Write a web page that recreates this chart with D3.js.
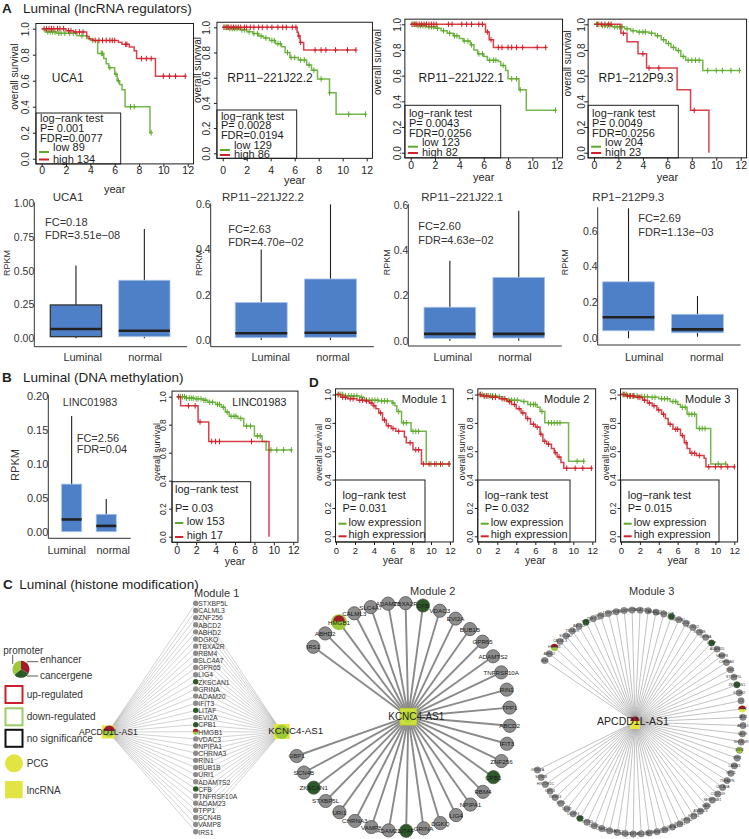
<!DOCTYPE html>
<html><head><meta charset="utf-8">
<script src="https://cdn.jsdelivr.net/npm/d3@7"></script>
<style>body{margin:0;background:#fff}svg{display:block}text{font-family:"Liberation Sans",Arial,Helvetica,sans-serif}</style>
</head><body><svg id="c" width="749" height="839"></svg>
<script>
// ---------------- DATA ----------------
const yrTicks = [0,2,4,6,8,10,12];
const osTicks = [0,0.2,0.4,0.6,0.8,1.0];
// Kaplan-Meier step points [year, survival]; end = last follow-up; cens = censor times
const uca1Low = [[0,1],[0.3,0.975],[1.2,0.965],[2.9,0.945],[3.7,0.925],[4.0,0.91],[4.6,0.81],[5.1,0.77],[5.3,0.73],[5.5,0.70],[6.0,0.65],[6.2,0.60],[6.4,0.57],[6.6,0.53],[6.85,0.40],[8.9,0.20]];
const uca1LowCens = [0.5,0.7,0.9,1.1,1.4,1.6,1.9,2.3,2.6,3.3,4.2,4.9,5.0,5.6,6.1,6.3,7.3,7.6,9.0];
const uca1High = [[0,1],[2.0,0.985],[2.6,0.975],[3.7,0.94],[3.9,0.92],[4.2,0.91],[6.3,0.895],[6.6,0.88],[7.2,0.86],[7.6,0.83],[7.8,0.77],[9.35,0.635]];
const uca1HighCens = [0.2,0.4,0.6,0.8,1.0,1.3,1.5,1.8,2.2,2.4,2.8,3.1,3.4,4.4,4.7,5.0,5.3,5.6,5.8,6.0,6.9,7.0,8.2,8.6,9.0,10.0,10.5,11.0,11.8];
const rp222Low = [[0,1],[0.5,0.99],[1.4,0.98],[2.0,0.965],[2.5,0.95],[3.0,0.93],[3.4,0.915],[3.9,0.895],[4.4,0.87],[4.9,0.845],[5.2,0.80],[5.6,0.76],[6.3,0.74],[7.0,0.70],[7.4,0.66],[7.9,0.59],[8.9,0.48],[9.45,0.31]];
const rp222LowCens = [0.2,0.4,0.6,0.8,1.0,1.2,1.6,1.8,2.2,2.6,2.9,3.2,3.6,4.1,4.3,4.6,4.8,5.4,5.7,6.0,6.5,6.8,7.2,7.6,8.2,8.9,10.5,11.9];
const rp222High = [[0,1],[6.2,0.96],[6.3,0.93],[6.45,0.88],[6.75,0.82]];
const rp222HighCens = [0.1,0.3,0.5,0.7,0.9,1.1,1.3,1.5,1.8,2.0,2.3,2.6,3.0,3.3,3.7,4.1,4.6,5.0,5.3,5.8,6.1,6.35,6.5,7.7,8.2,8.6,9.4,10.4,11.1];
const rp221Low = [[0,1],[0.5,0.99],[1.3,0.98],[2.0,0.97],[2.5,0.95],[3.0,0.93],[3.5,0.91],[4.0,0.89],[4.3,0.87],[4.9,0.84],[5.2,0.80],[5.5,0.77],[6.0,0.75],[6.3,0.72],[7.2,0.71],[7.4,0.68],[7.8,0.64],[8.0,0.575],[8.9,0.49],[9.5,0.33]];
const rp221LowCens = [0.2,0.4,0.6,0.8,1.0,1.2,1.5,1.7,1.9,2.2,2.7,3.2,3.6,3.8,4.4,4.7,5.0,5.6,5.9,6.5,6.8,7.0,7.6,8.3,8.7,9.0,11.9];
const rp221High = [[0,1],[6.15,0.94],[6.45,0.88],[6.8,0.82]];
const rp221HighCens = [0.1,0.3,0.5,0.7,0.9,1.1,1.3,1.5,1.7,1.9,2.1,3.1,3.4,4.2,4.6,5.0,5.6,5.9,6.3,6.6,7.2,7.5,8.0,8.3,8.7,9.2,10.4,11.1];
const rp1Low = [[0,1],[0.6,0.99],[1.5,0.98],[2.5,0.965],[3.0,0.95],[3.5,0.94],[4.5,0.93],[5.0,0.91],[5.5,0.88],[5.9,0.85],[6.3,0.82],[6.7,0.795],[7.1,0.75],[7.5,0.72],[8.9,0.64]];
const rp1LowCens = [0.2,0.4,0.7,0.9,1.1,1.3,1.7,1.9,2.1,2.3,2.7,3.2,3.7,4.0,4.2,4.7,5.2,5.7,6.1,6.5,6.9,7.3,7.7,8.0,8.3,8.6,9.3,10.0,10.5,11.2,11.9];
const rp1High = [[0,1],[2.2,0.93],[2.7,0.865],[3.6,0.77],[4.3,0.66],[6.8,0.49],[7.9,0.33],[9.4,0]];
const rp1HighCens = [0.3,0.6,0.9,1.2,1.4,2.4,4.0,4.5,5.3,8.2];
const lincLow = [[0,1],[0.9,0.99],[1.8,0.985],[2.7,0.975],[3.2,0.96],[4.0,0.945],[4.6,0.925],[5.0,0.89],[5.4,0.86],[6.3,0.845],[6.9,0.79],[8.0,0.72],[8.8,0.68],[9.2,0.62]];
const lincLowCens = [0.2,0.4,0.6,0.8,1.0,1.3,1.5,1.7,2.0,2.2,2.5,2.8,3.0,3.4,3.7,4.2,4.4,4.8,5.2,5.6,5.9,6.1,6.6,7.2,7.6,8.3,8.6,9.7,10.3,11.0,11.8];
const lincHigh = [[0,1],[0.4,0.935],[2.2,0.82],[3.3,0.68],[9.5,0]];
const lincHighCens = [0.2,1.2,1.9,2.4,3.6,4.0,4.4,7.7];
const mod1Low = [[0,1],[0.8,0.99],[2.5,0.98],[3.0,0.96],[4.5,0.955],[5.9,0.94],[6.2,0.92],[6.4,0.88],[6.9,0.80],[7.9,0.74],[9.5,0.51]];
const mod1LowCens = [0.2,0.5,0.7,1.0,1.3,1.6,1.9,2.2,2.7,3.2,3.5,3.8,4.1,4.4,4.8,5.1,5.4,6.0,6.6,7.1,7.4,8.1,8.4,8.7,10.0,10.6,11.2,11.9];
const mod1High = [[0,1],[0.5,0.98],[1.2,0.97],[2.2,0.96],[3.0,0.955],[3.5,0.94],[3.9,0.92],[4.2,0.90],[4.5,0.87],[4.9,0.82],[5.3,0.78],[5.8,0.76],[6.3,0.74],[7.2,0.70],[7.4,0.66],[8.1,0.61],[9.0,0.51]];
const mod1HighCens = [0.3,0.7,1.0,1.5,1.8,2.5,2.8,3.2,3.7,4.0,4.7,5.1,5.5,6.0,6.6,7.8,8.4,8.7,9.2,9.8,10.4,11.0,11.9];
const mod2Low = [[0,1],[0.5,0.99],[2.0,0.985],[2.5,0.97],[3.0,0.96],[4.5,0.95],[5.2,0.93],[6.2,0.91],[6.5,0.88],[7.0,0.80],[9.5,0.53]];
const mod2LowCens = [0.2,0.4,0.7,0.9,1.1,1.3,1.5,1.8,2.2,2.7,3.2,3.5,3.8,4.1,4.8,5.5,5.8,6.0,6.7,7.4,7.7,8.0,8.3,8.6,10.4,11.1];
const mod2High = [[0,1],[0.3,0.99],[1.2,0.98],[2.2,0.97],[3.0,0.95],[3.5,0.93],[4.0,0.90],[4.5,0.87],[5.0,0.83],[5.5,0.79],[6.0,0.77],[6.5,0.72],[6.8,0.67],[7.2,0.65],[7.7,0.62],[8.0,0.59],[8.3,0.56],[8.7,0.52],[9.0,0.48]];
const mod2HighCens = [0.2,0.6,0.9,1.5,1.8,2.5,2.8,3.3,3.8,4.3,4.7,5.2,5.8,6.2,6.6,7.0,7.4,8.1,8.5,9.3,10.2,11.0,11.9];
const mod3Low = [[0,1],[0.7,0.99],[2.0,0.985],[3.0,0.98],[4.0,0.97],[5.2,0.95],[6.0,0.93],[6.3,0.91],[7.0,0.86],[8.0,0.76],[9.5,0.51]];
const mod3LowCens = [0.2,0.4,0.6,0.9,1.2,1.4,1.7,2.2,2.5,2.8,3.3,3.6,4.3,4.6,4.9,5.5,5.8,6.5,6.8,7.2,7.5,7.8,8.3,8.6,8.9,10.3,11.1];
const mod3High = [[0,1],[0.5,0.99],[1.5,0.98],[2.3,0.96],[2.8,0.94],[3.3,0.92],[3.8,0.89],[4.3,0.86],[4.7,0.83],[5.0,0.79],[5.5,0.755],[6.3,0.71],[6.7,0.66],[7.0,0.62],[7.3,0.585],[8.0,0.57],[8.8,0.55],[9.0,0.49]];
const mod3HighCens = [0.3,0.7,1.0,1.3,1.8,2.0,2.5,3.0,3.5,4.0,4.5,5.2,5.8,6.0,6.5,6.9,7.5,7.8,8.3,9.3,10.0,10.6,11.3,12.0];

// Boxplots: [lower whisker, Q1, median, Q3, upper whisker] for Luminal, normal
const bpCats = ["Luminal","normal"];
const bpUCA1 = [[0,0.012,0.069,0.247,0.54],[0,0.012,0.056,0.43,0.81]];
const bpRP222 = [[0,0.01,0.03,0.166,0.40],[0,0.012,0.032,0.27,0.60]];
const bpRP221 = [[0,0.01,0.03,0.148,0.353],[0,0.012,0.03,0.28,0.575]];
const bpRP1 = [[0,0.042,0.117,0.315,0.725],[0.009,0.031,0.05,0.134,0.236]];
const bpLINC = [[0,0,0.018,0.07,0.17],[0,0,0.0085,0.0256,0.048]];

// Networks
const m1Genes = ["STXBP5L","CALML3","ZNF256","ABCD2","ABHD2","DGKQ","TBXA2R","RBM4","SLC4A7","GPR65","LIG4","ZKSCAN1","GRINA","ADAM20","IFIT3","LITAF","EVI2A","CPB1","HMGB1","VDAC3","NPIPA1","CHRNA3","RIN1","BUB1B","URI1","ADAMTS2","CFB","TNFRSF10A","ADAM23","TPP1","SCN4B","VAMP8","IRS1"];
const m2Genes = ["IRS1","ABHD2","HMGB1","CALML3","SLC4A7","ADAM20","TBXA2R","CFB","VDAC3","EVI2A","BUB1B","GPR65","ADAMTS2","TNFRSF10A","RIN1","TPP1","ABCD2","IFIT3","ZNF256","CPB1","RBM4","NPIPA1","LIG4","DGKQ","GRINA","LITAF","ADAM23","VAMP8","CHRNA3","URI1","STXBP5L","ZKSCAN1","SCN4B","GBP1"];
const m3Genes = ["IRS1","ABHD2","HMGB1","CALML3","SLC4A7","TBXA2R","ABCD2","TPP1","ZNF256","GPR65","DGKQ","RBM4","BUB1B","EVI2A","VDAC3","URI1","ADAMTS2","TNFRSF10A","CPB1","NPIPA1","LIG4","KCNQ2","SCN4B","GRINA","LITAF","ADAM20","VAMP8","CHRNA3","RIN1","STXBP5L","ZKSCAN1","KCNH2","C3","IFIT3","JAG1","APOL1","LAG3","SH3BGR","BIN3","IRF4","LAMB3","NPC1","TNFAIP8","CELA2A","CCDC69","SERPINB1","GAS1","ADAM23","KRT81","GPR12","SOX21","GATA2","PRR5","TMEM51","TBX3","RASL11B","ZNF14","ACSL1","LRRC2","MYO1A","LPAR1","DOK5","TP53I3","CFB","DUSP4","DLG2","SYT5","RBM13","IGFL3","HIST1H1C","SCN3B","GRIN2A"];
const cancerGenes = ["ZKSCAN1","LITAF","CPB1","CFB"];
const m3Cancer = ["TPP1","CPB1","LITAF","ZKSCAN1","CFB"];
const pieRedGreen = ["HMGB1"];
const pieRedYellow = ["IFIT3"];
const downGenes = ["BIN3"];

// ---------------- DRAW ----------------
const svg = d3.select("#c");
svg.append("rect").attr("width",749).attr("height",839).attr("fill","#fff");
const GREEN = "#5daa2b", RED = "#d0202a", INK = "#1e1e1e";
const BLUE = "#4e80c7";
const YEL = "#e1e443", LTG = "#9cc93a", DKG = "#2c5a26", DKR = "#a21b2b", NODE = "#8d8d8d";

function txt(g, x, y, s, o = {}) {
  const t = g.append("text").attr("x", x).attr("y", y).text(s)
    .attr("font-size", o.size || 11).attr("text-anchor", o.anchor || "start")
    .attr("dominant-baseline", o.base || "central").attr("fill", o.fill || INK);
  if (o.bold) t.attr("font-weight", "bold");
  if (o.rot) t.attr("transform", `rotate(-90,${x},${y})`);
  return t;
}
function stepVal(pts, t) {
  const i = d3.bisector(d => d[0]).right(pts, t) - 1;
  return pts[Math.max(0, i)][1];
}
function drawKM(c) {
  const g = svg.append("g");
  const x = d3.scaleLinear().domain([0, 12]).range([c.x0, c.x12]);
  const y = d3.scaleLinear().domain([0, 1]).range([c.y0, c.y1]);
  const padL = c.padL ?? 0.48, padR = c.padR ?? 0.48;
  const fr = [x(-padL), y(1.04), x(12 + padR), y(-0.04)];
  c.curves.forEach(cv => {
    const pts = cv.pts.concat([[cv.end, cv.pts[cv.pts.length - 1][1]]]);
    g.append("path")
      .attr("d", d3.line().x(d => x(d[0])).y(d => y(d[1])).curve(d3.curveStepAfter)(pts))
      .attr("fill", "none").attr("stroke", cv.color).attr("stroke-width", 1.5).attr("stroke-opacity", 0.85);
    g.append("g").selectAll("path").data(cv.cens).join("path")
      .attr("d", t => { const px = x(t), py = y(stepVal(cv.pts, t)); return `M${px},${py - 2.8}v5.6M${px - 1.8},${py}h3.6`; })
      .attr("stroke", cv.color).attr("stroke-width", 1).attr("fill", "none");
  });
  // legend
  const lb = c.legend.box;
  g.append("rect").attr("x", lb[0]).attr("y", lb[1]).attr("width", lb[2] - lb[0]).attr("height", fr[3] - lb[1])
    .attr("fill", "#fff").attr("stroke", INK).attr("stroke-width", 1);
  c.legend.rows.forEach(r => {
    txt(g, lb[0] + r.dx, r.y, r.t, { size: c.legSize || 11 });
    if (r.c) g.append("line").attr("x1", lb[0] + 3).attr("x2", lb[0] + (c.legLine || 13))
      .attr("y1", r.ly ?? r.y + 2).attr("y2", r.ly ?? r.y + 2).attr("stroke", r.c).attr("stroke-width", 2);
  });
  g.append("rect").attr("x", fr[0]).attr("y", fr[1]).attr("width", fr[2] - fr[0]).attr("height", fr[3] - fr[1])
    .attr("fill", "none").attr("stroke", INK).attr("stroke-width", 1);
  // axes
  const xa = g.append("g").attr("transform", `translate(0,${fr[3]})`)
    .call(d3.axisBottom(x).tickValues(yrTicks).tickSize(3).tickFormat(d3.format("d")));
  xa.select(".domain").remove();
  xa.attr("font-family", null).attr("font-size", c.xtSize || 10.5);
  xa.selectAll("line").attr("stroke", INK);
  xa.selectAll("text").attr("y", c.xlabY - fr[3]).attr("dy", "0.35em").attr("fill", INK);
  const ya = g.append("g").attr("transform", `translate(${fr[0]},0)`)
    .call(d3.axisLeft(y).tickValues(osTicks).tickSize(3).tickFormat(d3.format(".1f")));
  ya.select(".domain").remove();
  ya.attr("font-family", null).attr("font-size", c.ytSize || 10);
  ya.selectAll("line").attr("stroke", INK);
  ya.selectAll("text").attr("x", 0).attr("dy", null).attr("y", -(c.ylabOff || 9))
    .attr("transform", "rotate(-90)").attr("text-anchor", "middle").attr("dominant-baseline", "central").attr("fill", INK);
  txt(g, (c.x0 + c.x12) / 2, c.yearY, "year", { size: c.yearSize || 11, anchor: "middle" });
  txt(g, c.ylab[0], c.ylab[1], "overall survival", { size: c.ylabSize || 10, anchor: "middle", rot: true });
  txt(g, c.label.x, c.label.y, c.label.t, { size: c.label.size || 12, anchor: "middle" });
}
function kmRows(a, b, c2, d, e, ys) {
  return [{ t: a, dx: 4, y: ys[0] }, { t: b, dx: 4, y: ys[1] }, { t: c2, dx: 4, y: ys[2] },
          { t: d, dx: 17, y: ys[3], c: GREEN, ly: ys[3] + 5 }, { t: e, dx: 17, y: ys[4], c: RED, ly: ys[4] + 1 }];
}
// Panel A KM
drawKM({ x0: 41.7, x12: 187.7, y1: 28.7, y0: 158.7, xlabY: 170.3, yearY: 189, ylab: [15, 76.7], ylabOff: 10,
  label: { t: "UCA1", x: 67.8, y: 77.7 },
  curves: [{ pts: uca1Low, end: 9.0, cens: uca1LowCens, color: GREEN }, { pts: uca1High, end: 11.8, cens: uca1HighCens, color: RED }],
  legend: { box: [36, 113, 120.7], rows: kmRows("log−rank test", "P= 0.001", "FDR=0.0077", "low 89", "high 134", [117.5, 127.5, 137.5, 147, 158.5]) } });
drawKM({ x0: 222.7, x12: 366.7, y1: 27.3, y0: 153.3, xlabY: 170, yearY: 180, ylab: [197, 70], ylabOff: 10,
  label: { t: "RP11−221J22.2", x: 270, y: 78 },
  curves: [{ pts: rp222Low, end: 11.9, cens: rp222LowCens, color: GREEN }, { pts: rp222High, end: 11.1, cens: rp222HighCens, color: RED }],
  legend: { box: [216.9, 110, 296.7], rows: kmRows("log−rank test", "P= 0.0028", "FDR=0.0194", "low 129", "high 86", [115.7, 125, 135, 145, 154]) } });
drawKM({ x0: 410.7, x12: 556.7, y1: 24.3, y0: 152.7, xlabY: 165.5, yearY: 176.7, ylab: [377, 62], ylabOff: 7,
  label: { t: "RP11−221J22.1", x: 461.3, y: 77.5 },
  curves: [{ pts: rp221Low, end: 11.9, cens: rp221LowCens, color: GREEN }, { pts: rp221High, end: 11.1, cens: rp221HighCens, color: RED }],
  legend: { box: [404.9, 105.3, 500.7], rows: kmRows("log−rank test", "P= 0.0043", "FDR=0.0256", "low 123", "high 82", [112.7, 122.7, 132.7, 141.7, 152]) } });
drawKM({ x0: 594, x12: 740.7, y1: 24.3, y0: 152.7, xlabY: 165.5, yearY: 176.7, ylab: [567.7, 63.3], ylabOff: 7,
  label: { t: "RP1−212P9.3", x: 636, y: 77.5 },
  curves: [{ pts: rp1Low, end: 11.9, cens: rp1LowCens, color: GREEN }, { pts: rp1High, end: 9.4, cens: rp1HighCens, color: RED }],
  legend: { box: [588.1, 105.3, 678.3], rows: kmRows("log−rank test", "P= 0.0049", "FDR=0.0256", "low 204", "high 23", [112.7, 122.7, 132.7, 141.7, 152]) } });
// Panel B KM
drawKM({ x0: 176.7, x12: 293.3, y1: 396.7, y0: 536.7, xlabY: 550, yearY: 561, ylab: [156.7, 452], ylabOff: 9, ytSize: 8.5, ylabSize: 8.8, yearSize: 10.5,
  label: { t: "LINC01983", x: 259.3, y: 401.7, size: 10.7 }, legLine: 11.3,
  curves: [{ pts: lincLow, end: 11.8, cens: lincLowCens, color: GREEN }, { pts: lincHigh, end: 9.5, cens: lincHighCens, color: RED }],
  legend: { box: [172, 481.7, 250.7], rows: [{ t: "log−rank test", dx: 3, y: 489 }, { t: "P= 0.03", dx: 3, y: 507.7 },
    { t: "low 153", dx: 14.7, y: 521, c: GREEN }, { t: "high 17", dx: 14.7, y: 535, c: RED }] } });
// Panel D KM
function dRows(p) {
  return [{ t: "log−rank test", dx: 7, y: 495 }, { t: p, dx: 7, y: 508.3 },
    { t: "low expression", dx: 13, y: 521.7, c: GREEN }, { t: "high expression", dx: 13, y: 534.3, c: RED }];
}
const dCommon = { y1: 394.5, y0: 536.3, xlabY: 550.7, yearY: 559.5, ylabOff: 8, ytSize: 8.5, xtSize: 9.5, ylabSize: 8.6, yearSize: 10.5, padL: 0.05, padR: 0.35, legLine: 11 };
drawKM(Object.assign({}, dCommon, { x0: 336, x12: 450, ylab: [319.3, 452.3], label: { t: "Module 1", x: 424.3, y: 399.3, size: 11 },
  curves: [{ pts: mod1Low, end: 11.9, cens: mod1LowCens, color: GREEN }, { pts: mod1High, end: 11.9, cens: mod1HighCens, color: RED }],
  legend: { box: [335.5, 480, 425], rows: dRows("P= 0.031") } }));
drawKM(Object.assign({}, dCommon, { x0: 478.3, x12: 592.3, ylab: [462.3, 451.7], label: { t: "Module 2", x: 566.7, y: 399.3, size: 11 },
  curves: [{ pts: mod2Low, end: 11.1, cens: mod2LowCens, color: GREEN }, { pts: mod2High, end: 11.9, cens: mod2HighCens, color: RED }],
  legend: { box: [477.7, 480, 570], rows: dRows("P= 0.032") } }));
drawKM(Object.assign({}, dCommon, { x0: 621, x12: 734.3, ylab: [605.7, 451.7], label: { t: "Module 3", x: 707.7, y: 399.3, size: 11 },
  curves: [{ pts: mod3Low, end: 11.1, cens: mod3LowCens, color: GREEN }, { pts: mod3High, end: 12, cens: mod3HighCens, color: RED }],
  legend: { box: [620.7, 480, 719], rows: dRows("P= 0.015") } }));

// Boxplots
function drawBox(c) {
  const g = svg.append("g");
  const xb = d3.scaleBand().domain(bpCats).range(c.xr).padding(c.pad);
  const y = d3.scaleLinear().domain([0, c.ymax]).range(c.yr);
  const axTop = Math.min(y(c.ymax), y(d3.max(c.data, d => d[4]))) - 1;
  g.append("line").attr("x1", c.axisX).attr("x2", c.axisX).attr("y1", axTop).attr("y2", c.axBot).attr("stroke", "#333");
  g.append("line").attr("x1", c.axisX).attr("x2", c.xr[1]).attr("y1", c.axBot).attr("y2", c.axBot).attr("stroke", "#333");
  const ya = g.append("g").attr("transform", `translate(${c.axisX},0)`)
    .call(d3.axisLeft(y).tickValues(c.ticks).tickFormat(d3.format(c.fmt)).tickSize(0).tickPadding(0));
  ya.select(".domain").remove();
  ya.attr("font-family", null).attr("font-size", c.tSize || 10.5);
  ya.selectAll("text").attr("fill", "#333");
  c.data.forEach((d, i) => {
    const cat = bpCats[i], cx = xb(cat) + xb.bandwidth() / 2;
    g.append("line").attr("x1", cx).attr("x2", cx).attr("y1", y(d[4])).attr("y2", y(d[0])).attr("stroke", INK).attr("stroke-width", 1.1);
    g.append("rect").attr("x", xb(cat)).attr("width", xb.bandwidth()).attr("y", y(d[3])).attr("height", y(d[1]) - y(d[3]))
      .attr("fill", BLUE).attr("stroke", i === 0 && c.darkFirst ? "#333" : "#a8c3ea").attr("stroke-width", i === 0 && c.darkFirst ? 1.3 : 0.8);
    g.append("line").attr("x1", xb(cat)).attr("x2", xb(cat) + xb.bandwidth()).attr("y1", y(d[2])).attr("y2", y(d[2]))
      .attr("stroke", "#222").attr("stroke-width", 2.6);
    txt(g, cx + c.labDx[i], c.labY, cat, { size: c.cSize || 11, anchor: "middle", fill: "#333" });
  });
  txt(g, c.title[1], c.title[2], c.title[0], { size: c.titleSize || 11.5, anchor: "middle", fill: "#333" });
  txt(g, c.fc[1], c.fc[2], c.fc[0], { size: 11, fill: "#333" });
  txt(g, c.fdr[1], c.fdr[2], c.fdr[0], { size: 11, fill: "#333" });
  txt(g, c.rpkm[0], c.rpkm[1], "RPKM", { size: c.rpkmSize || 9, anchor: "middle", rot: true, fill: "#333" });
}
drawBox({ data: bpUCA1, xr: [33.2, 187.1], pad: 0.25, ymax: 1, yr: [338.3, 203.3], axisX: 34.3, axBot: 346.7, ticks: [0, 0.25, 0.5, 0.75, 1], fmt: ".2f",
  darkFirst: true, labY: 356.7, labDx: [6.7, 0.7], title: ["UCA1", 68, 196.5], fc: ["FC=0.18", 45, 222], fdr: ["FDR=3.51e−08", 45, 234.5], rpkm: [7.3, 263] });
drawBox({ data: bpRP222, xr: [217.9, 373.8], pad: 0.25, ymax: 0.6, yr: [340, 204.4], axisX: 210.7, axBot: 346.7, ticks: [0, 0.2, 0.4, 0.6], fmt: ".1f",
  labY: 356.7, labDx: [9.5, 2.5], title: ["RP11−221J22.2", 263, 196.5], fc: ["FC=2.63", 228.3, 229], fdr: ["FDR=4.70e−02", 228.3, 242.3], rpkm: [199, 263] });
drawBox({ data: bpRP221, xr: [406.8, 561.8], pad: 0.25, ymax: 0.6, yr: [340.7, 205], axisX: 408.3, axBot: 346, ticks: [0, 0.2, 0.4, 0.6], fmt: ".1f",
  labY: 356.7, labDx: [3, -3.8], title: ["RP11−221J22.1", 462.3, 196.5], fc: ["FC=2.60", 418.3, 226], fdr: ["FDR=4.63e−02", 418.3, 240], rpkm: [386.7, 262.3] });
drawBox({ data: bpRP1, xr: [585.4, 740.6], pad: 0.25, ymax: 0.6, yr: [338.3, 230.7], axisX: 597.7, axBot: 345, ticks: [0, 0.2, 0.4, 0.6], fmt: ".1f",
  labY: 356.7, labDx: [15.7, 9.2], title: ["RP1−212P9.3", 628.3, 196.5], fc: ["FC=2.69", 638.3, 218.3], fdr: ["FDR=1.13e−03", 638.3, 231.7], rpkm: [565, 262.3] });
drawBox({ data: bpLINC, xr: [47.1, 130.8], pad: 0.42, ymax: 0.2, yr: [531.7, 395.7], axisX: 48.3, axBot: 538.3, ticks: [0, 0.05, 0.1, 0.15, 0.2], fmt: ".2f",
  tSize: 11, labY: 550, labDx: [-5, 7], title: ["LINC01983", 90, 401.7], titleSize: 10.8, fc: ["FC=2.56", 76.7, 437.7], fdr: ["FDR=0.04", 76.7, 449], rpkm: [15, 465], rpkmSize: 11 });

// Panel titles
const T = svg.append("g");
txt(T, 2, 13, "A", { size: 13.5, bold: true, base: "auto" });
txt(T, 23, 13, "Luminal (lncRNA regulators)", { size: 13.5, base: "auto" });
txt(T, 2, 382, "B", { size: 13.5, bold: true, base: "auto" });
txt(T, 23, 382, "Luminal (DNA methylation)", { size: 13.5, base: "auto" });
txt(T, 309, 386.5, "D", { size: 13.5, bold: true, base: "auto" });
txt(T, 3, 589, "C", { size: 13.5, bold: true, base: "auto" });
txt(T, 19.3, 589, "Luminal (histone modification)", { size: 13.5, base: "auto" });

// Panel C legend
const L = svg.append("g");
const arcL = d3.arc().innerRadius(0).outerRadius(8.5);
const pieL = d3.pie().sort(null).value(d => d[1]);
L.append("g").attr("transform", "translate(21,669.3)").selectAll("path")
  .data(pieL([[DKR, 120], [DKG, 110], [LTG, 130]])).join("path").attr("d", arcL).attr("fill", d => d.data[0]);
L.append("line").attr("x1", 12.7).attr("x2", 12.7).attr("y1", 655).attr("y2", 664).attr("stroke", "#333").attr("stroke-width", 0.8);
L.append("line").attr("x1", 26.7).attr("x2", 38.3).attr("y1", 661.7).attr("y2", 661.7).attr("stroke", "#333").attr("stroke-width", 0.8);
L.append("line").attr("x1", 27).attr("x2", 38.3).attr("y1", 676).attr("y2", 676).attr("stroke", "#333").attr("stroke-width", 0.8);
txt(L, 3.3, 650, "promoter", { size: 10, fill: "#333" });
txt(L, 40, 659.3, "enhancer", { size: 10, fill: "#333" });
txt(L, 40, 675.7, "cancergene", { size: 10, fill: "#333" });
[["up-regulated", "#c9202e", 686], ["down-regulated", "#9ccc65", 708.3], ["no significance", "#111", 729.8]].forEach(r => {
  L.append("rect").attr("x", 5.5).attr("y", r[2]).attr("width", 17).attr("height", 17).attr("fill", "#fff").attr("stroke", r[1]).attr("stroke-width", 2);
  txt(L, 26.7, r[2] + 8.5, r[0], { size: 10, fill: "#333" });
});
L.append("circle").attr("cx", 14).attr("cy", 763.3).attr("r", 9).attr("fill", YEL);
txt(L, 26.7, 763.3, "PCG", { size: 10, fill: "#333" });
L.append("rect").attr("x", 5).attr("y", 781).attr("width", 17.7).attr("height", 17.3).attr("fill", YEL);
txt(L, 26.7, 790, "lncRNA", { size: 10, fill: "#333" });

function nodeFill(name, cancerList) {
  if (downGenes.includes(name)) return LTG;
  if (cancerList.includes(name)) return DKG;
  return NODE;
}
function pieNode(g, x, y, r, bottom) {
  const a = d3.arc().innerRadius(0).outerRadius(r);
  g.append("path").attr("transform", `translate(${x},${y})`).attr("d", a({ startAngle: Math.PI / 2, endAngle: Math.PI * 1.5 })).attr("fill", bottom);
  g.append("path").attr("transform", `translate(${x},${y})`).attr("d", a({ startAngle: -Math.PI / 2, endAngle: Math.PI / 2 })).attr("fill", DKR);
}

// Module 1 (bipartite)
const M1 = svg.append("g");
const m1y = d3.scalePoint().domain(m1Genes).range([603.3, 831.7]);
const m1X = 195.7, hubA = [108.3, 732], hubK = [281.7, 732];
m1Genes.forEach(gn => {
  [hubA, hubK].forEach(h => M1.append("line").attr("x1", h[0]).attr("y1", h[1]).attr("x2", m1X).attr("y2", m1y(gn))
    .attr("stroke", "#9d9d9d").attr("stroke-width", 0.45));
});
m1Genes.forEach(gn => {
  if (pieRedGreen.includes(gn)) pieNode(M1, m1X, m1y(gn), 2.9, LTG);
  else M1.append("circle").attr("cx", m1X).attr("cy", m1y(gn)).attr("r", 2.7).attr("fill", nodeFill(gn, cancerGenes));
  txt(M1, 198.3, m1y(gn) + 0.3, gn, { size: 6.8, fill: "#333" });
});
M1.append("rect").attr("x", hubA[0] - 6.5).attr("y", hubA[1] - 6.5).attr("width", 13).attr("height", 13).attr("fill", YEL);
pieNode(M1, hubA[0] + 1, hubA[1] - 1, 5.5, LTG);
txt(M1, hubA[0], hubA[1], "APCDD1L-AS1", { size: 8.6, anchor: "middle", fill: "#222" });
M1.append("rect").attr("x", hubK[0] - 8).attr("y", hubK[1] - 8).attr("width", 16).attr("height", 15).attr("fill", YEL);
M1.append("circle").attr("cx", hubK[0]).attr("cy", hubK[1]).attr("r", 7).attr("fill", LTG);
txt(M1, 268.3, 730.7, "KCNC4-AS1", { size: 9.8, fill: "#222" });
txt(M1, 216.7, 593.3, "Module 1", { size: 11, anchor: "middle", fill: "#333" });

// Module 2 (star)
const M2 = svg.append("g");
const m2a = d3.scalePoint().domain(m2Genes).range([-142, 160]);
const c2 = [400, 717], r2 = [110, 114], hub2 = [408.3, 716.7];
const p2 = gn => { const a = m2a(gn) * Math.PI / 180; return [c2[0] + r2[0] * Math.cos(a), c2[1] + r2[1] * Math.sin(a)]; };
m2Genes.forEach(gn => {
  const p = p2(gn);
  M2.append("line").attr("x1", hub2[0]).attr("y1", hub2[1]).attr("x2", p[0]).attr("y2", p[1]).attr("stroke", "#8a8a8a").attr("stroke-width", 1.9);
});
m2Genes.forEach(gn => {
  const p = p2(gn);
  if (pieRedGreen.includes(gn)) {
    M2.append("circle").attr("cx", p[0]).attr("cy", p[1]).attr("r", 8).attr("fill", LTG);
    pieNode(M2, p[0], p[1] - 1, 5.8, LTG);
  } else {
    M2.append("circle").attr("cx", p[0]).attr("cy", p[1]).attr("r", 6.6).attr("fill", nodeFill(gn, cancerGenes)).attr("stroke", "#555").attr("stroke-width", 0.8);
  }
  txt(M2, p[0], p[1], gn, { size: 6.2, anchor: "middle", fill: "#1a1a1a" });
});
M2.append("rect").attr("x", hub2[0] - 8.3).attr("y", hub2[1] - 8.3).attr("width", 16.6).attr("height", 16.6).attr("fill", "#cfe03a").attr("stroke", "#b9cf2f");
M2.append("circle").attr("cx", hub2[0]).attr("cy", hub2[1]).attr("r", 6).attr("fill", "#b8d83a");
txt(M2, 416.3, 716.7, "KCNC4-AS1", { size: 10, anchor: "middle", fill: "#222" });
txt(M2, 432.7, 590.7, "Module 2", { size: 11, anchor: "middle", fill: "#333" });

// Module 3 (star)
const M3 = svg.append("g");
const m3a = d3.scalePoint().domain(m3Genes).range([-146.7, 154.6]);
const c3 = [635, 722], r3 = [108, 112];
const p3 = gn => { const a = m3a(gn) * Math.PI / 180; return [c3[0] + r3[0] * Math.cos(a), c3[1] + r3[1] * Math.sin(a)]; };
m3Genes.forEach(gn => {
  const p = p3(gn);
  M3.append("line").attr("x1", c3[0]).attr("y1", c3[1]).attr("x2", p[0]).attr("y2", p[1]).attr("stroke", "#8f8f8f").attr("stroke-width", 0.55);
});
m3Genes.forEach(gn => {
  const p = p3(gn);
  if (pieRedGreen.includes(gn)) pieNode(M3, p[0], p[1], 3.6, LTG);
  else if (pieRedYellow.includes(gn)) pieNode(M3, p[0], p[1], 3.6, YEL);
  else M3.append("circle").attr("cx", p[0]).attr("cy", p[1]).attr("r", 3.2).attr("fill", nodeFill(gn, m3Cancer)).attr("stroke", "#666").attr("stroke-width", 0.4);
  txt(M3, p[0], p[1], gn, { size: 3.6, anchor: "middle", fill: "#333" });
});
M3.append("rect").attr("x", c3[0] - 5).attr("y", c3[1] - 2).attr("width", 10).attr("height", 9).attr("fill", YEL);
pieNode(M3, c3[0], c3[1] - 1, 4.5, YEL);
txt(M3, 633, 720.7, "APCDD1L-AS1", { size: 10.5, anchor: "middle", fill: "#222" });
txt(M3, 651.7, 590.7, "Module 3", { size: 11, anchor: "middle", fill: "#333" });
</script></body></html>
